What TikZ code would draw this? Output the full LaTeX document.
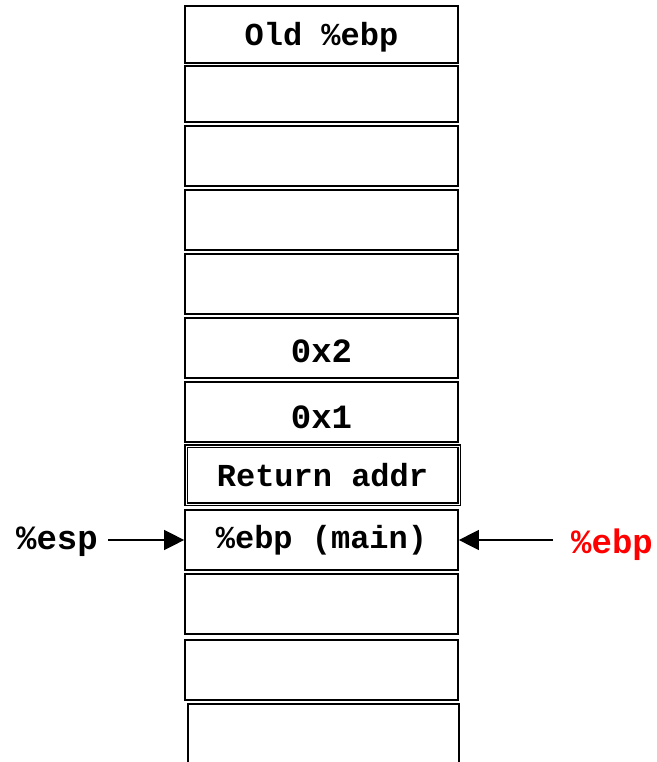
\documentclass[tikz,border=0pt]{standalone}
\usepackage{fontspec}
\newfontfamily\stackfont{Liberation Mono}
\usetikzlibrary{positioning}
\usetikzlibrary{arrows.meta}

\begin{document}
\begin{tikzpicture}
	[x=1pt,y=-1pt,>={Triangle[length=20pt,width=20pt]},
	cell/.style={rectangle,draw,line width=1.7pt,minimum width=273pt,minimum height=57pt,inner sep=0pt,
		font=\stackfont\bfseries\fontsize{32}{36}\selectfont},
	frame/.style={cell,double,line width=1.3pt,double distance=0.8pt},
	val/.style={font=\stackfont\bfseries\fontsize{34}{38}\selectfont},
	reg/.style={font=\stackfont\bfseries\fontsize{34}{38}\selectfont}]
	\useasboundingbox (0,0) rectangle (656,762);
	% the stack, from the top down
	\node at (321.5,34.5) [cell,
		label={[cell,draw=none,yshift=-3pt]center:Old \%ebp}] (oldebp) {};
	\node at (321.5,94) [cell,minimum height=56pt] (slot1) {};
	\node at (321.5,156) [cell,minimum height=60pt] (slot2) {};
	\node at (321.5,220) [cell,minimum height=60pt] (slot3) {};
	\node at (321.5,284) [cell,minimum height=60pt] (slot4) {};
	\node at (321.5,348) [cell,minimum height=60pt,
		label={[val,yshift=-3pt]center:0x2}] (arg2) {};
	\node at (321.5,412) [cell,minimum height=60pt,
		label={[val,yshift=-5pt]center:0x1}] (arg1) {};
	\node at (322.5,475) [frame,minimum height=58pt] (retaddr) {Return addr};
	\node at (321.5,540) [cell,minimum height=60pt] (ebpmain) {\%ebp (main)};
	\node at (321.5,604) [cell,minimum height=60pt] (slot5) {};
	\node at (321.5,670) [cell,minimum height=60pt] (slot6) {};
	\draw [line width=1.7pt] (188,790) -- (188,704) -- (459,704) -- (459,790);
	% registers
	\node at (57,542) [reg] (esp) {\%esp};
	\node at (612,545) [reg,text=red] (ebp) {\%ebp};
	\draw [->,line width=1.3pt] (108,540) -- (ebpmain.west);
	\draw [->,line width=1.3pt] (553,540) -- (ebpmain.east);
\end{tikzpicture}
\end{document}
